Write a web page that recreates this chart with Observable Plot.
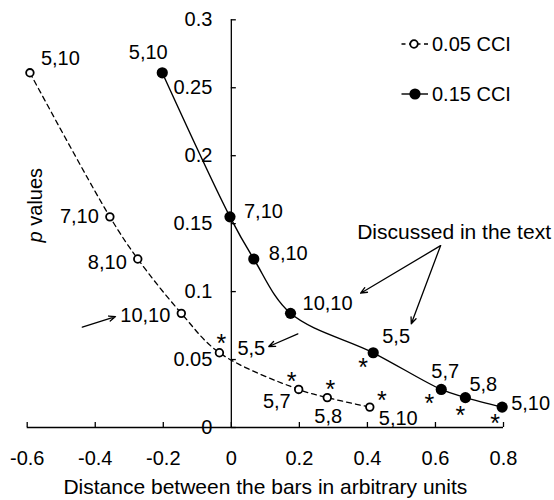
<!DOCTYPE html>
<html><head><meta charset="utf-8">
<script src="https://cdn.jsdelivr.net/npm/d3@7"></script>
<script src="https://cdn.jsdelivr.net/npm/@observablehq/plot@0.6"></script>
<style>
html,body{margin:0;padding:0;background:#fff;}
#chart svg{display:block;}
</style></head><body><div id="chart"></div>
<script>
// ---- data ----
const pointLabels = ["5,10","7,10","8,10","10,10","5,5","5,7","5,8","5,10"];
const pValues = [0.261, 0.155, 0.124, 0.084, 0.055, 0.028, 0.022, 0.015];
const xCCI005 = [-0.592, -0.357, -0.275, -0.147, -0.035, 0.198, 0.282, 0.407];
const xCCI015 = [-0.203, -0.004, 0.066, 0.174, 0.417, 0.617, 0.688, 0.796];
const significant = [false, false, false, false, true, true, true, true];
const xTicks = [-0.6, -0.4, -0.2, 0, 0.2, 0.4, 0.6, 0.8];
const yTicks = [0, 0.05, 0.1, 0.15, 0.2, 0.25, 0.3];
const seriesNames = ["0.05 CCI", "0.15 CCI"];
const xTitle = "Distance between the bars in arbitrary units";
const yTitleItalic = "p";
const yTitleRest = " values";
const noteText = "Discussed in the text";
// annotation anchors (data units)
const noteAnchor = {x: 0.370, y: 0.1434};
const noteArrows = [
  {x1: 0.615, y1: 0.1338, x2: 0.380, y2: 0.0988},
  {x1: 0.615, y1: 0.1338, x2: 0.529, y2: 0.0763},
  {x1: 0.1955, y1: 0.0689, x2: 0.110, y2: 0.0596},
  {x1: -0.438, y1: 0.0738, x2: -0.3404, y2: 0.0816}
];

// ---- layout (pixel offsets for labels) ----
const openLabelLayout = [[11,-14,"start"],[-11,0,"end"],[-11,4,"end"],[-11,2,"end"],[18,-4,"start"],[-8,12,"end"],[1,19,"middle"],[9,11,"start"]];
const filledLabelLayout = [[-14,-20,"middle"],[14,-5,"start"],[15,-5,"start"],[12,-10,"start"],[9,-16,"start"],[4,-18,"middle"],[4,-13,"start"],[9,-4,"start"]];
const openStarLayout = [null,null,null,null,[2,-15],[-7,-13],[3,-14],[12,-12]];
const filledStarLayout = [null,null,null,null,[-10,9],[-12,9],[-5,12],[-7,11]];

const FONT = "'Liberation Sans', Arial, Helvetica, sans-serif";
const FS = 20;
const STAR_FS = 25;
const STAR_SHIFT = Math.round(STAR_FS * 0.255);

const open = pointLabels.map((l, i) => ({x: xCCI005[i], y: pValues[i], label: l, sig: significant[i], lay: openLabelLayout[i], star: openStarLayout[i]}));
const filled = pointLabels.map((l, i) => ({x: xCCI015[i], y: pValues[i], label: l, sig: significant[i], lay: filledLabelLayout[i], star: filledStarLayout[i]}));

function labelMarks(data) {
  return data.map(d => Plot.text([d], {x: "x", y: "y", text: "label", textAnchor: d.lay[2], dx: d.lay[0], dy: d.lay[1], fontSize: FS, fill: "black"}));
}
function starMarks(data) {
  return data.filter(d => d.sig).map(d =>
    Plot.text([d], {x: "x", y: "y", text: () => "*", textAnchor: "middle", dx: d.star[0], dy: d.star[1] + STAR_SHIFT, fontSize: STAR_FS, fill: "black"}));
}

const W = 554, H = 500;
const mTop = 19.3, mBottom = 73, mLeft = 26.7, mRight = 51;
const tickLenX = 5 / ((H - mTop - mBottom) / 0.3);
const tickLenY = 5 / ((W - mLeft - mRight) / 1.4);

const plot = Plot.plot({
  width: W, height: H,
  marginTop: mTop, marginBottom: mBottom, marginLeft: mLeft, marginRight: mRight,
  x: {domain: [-0.6, 0.8]},
  y: {domain: [0, 0.3], axis: null},
  style: {fontFamily: FONT, fontSize: FS + "px", color: "black", background: "white", overflow: "visible"},
  marks: [
    Plot.axisX({ticks: xTicks, tickSize: 0, tickPadding: 23, tickFormat: d => String(d), label: null, fontSize: FS}),
    Plot.ruleY([0], {stroke: "black", strokeWidth: 1.3}),
    Plot.ruleX(xTicks, {y1: 0, y2: tickLenX, stroke: "black", strokeWidth: 1.3}),
    Plot.ruleX([0], {y1: 0, y2: 0.3, stroke: "black", strokeWidth: 1.3}),
    Plot.ruleY(yTicks, {x1: 0, x2: tickLenY, stroke: "black", strokeWidth: 1.3}),
    Plot.text(yTicks, {x: 0, y: d => d, text: d => String(d), textAnchor: "end", dx: -19, fontSize: FS, fill: "black"}),
    Plot.text([xTitle], {frameAnchor: "bottom", dy: 66, fontSize: 21, fill: "black"}),
    // series lines
    Plot.line(open, {x: "x", y: "y", curve: "catmull-rom", stroke: "black", strokeWidth: 1.3, strokeDasharray: "5,4"}),
    Plot.line(filled, {x: "x", y: "y", curve: "catmull-rom", stroke: "black", strokeWidth: 1.4}),
    Plot.dot(open, {x: "x", y: "y", r: 3.8, stroke: "black", strokeWidth: 1.8, fill: "white"}),
    Plot.dot(filled, {x: "x", y: "y", r: 5.6, fill: "black", stroke: "none"}),
    ...labelMarks(open),
    ...labelMarks(filled),
    ...starMarks(open),
    ...starMarks(filled),
    // annotation
    Plot.text([noteAnchor], {x: "x", y: "y", text: () => noteText, textAnchor: "start", fontSize: 21, fill: "black"}),
    Plot.arrow(noteArrows, {x1: "x1", y1: "y1", x2: "x2", y2: "y2", stroke: "black", strokeWidth: 1.3, headLength: 8, headAngle: 45})
  ]
});

document.getElementById("chart").appendChild(plot);

// y-axis title with italic p, and legend
const svg = d3.select(plot);
const yt = svg.append("text")
  .attr("transform", `translate(37,${(mTop + H - mBottom) / 2 - 18}) rotate(-90)`)
  .attr("text-anchor", "middle")
  .attr("dominant-baseline", "middle")
  .style("font-family", FONT).style("font-size", "20px").attr("fill", "black");
yt.append("tspan").style("font-style", "italic").text(yTitleItalic);
yt.append("tspan").text(yTitleRest);

const legend = svg.append("g").style("font-family", FONT).style("font-size", "20px").attr("text-anchor", "start");
const legendRows = [44, 94];
seriesNames.forEach((name, i) => {
  const g = legend.append("g").attr("transform", `translate(0,${legendRows[i]})`);
  if (i === 0) {
    g.append("line").attr("x1", 401.5).attr("x2", 428).attr("y1", 0).attr("y2", 0)
      .attr("stroke", "black").attr("stroke-width", 1.3).attr("stroke-dasharray", "4,3.5");
    g.append("circle").attr("cx", 414).attr("cy", 0).attr("r", 3.8).attr("fill", "white").attr("stroke", "black").attr("stroke-width", 1.8);
  } else {
    g.append("line").attr("x1", 401.5).attr("x2", 428).attr("y1", 0).attr("y2", 0)
      .attr("stroke", "black").attr("stroke-width", 1.4);
    g.append("circle").attr("cx", 415).attr("cy", 0).attr("r", 5.6).attr("fill", "black");
  }
  g.append("text").attr("x", 432).attr("y", 0).attr("dy", "0.35em").attr("text-anchor", "start").attr("fill", "black").text(name);
});
</script></body></html>
